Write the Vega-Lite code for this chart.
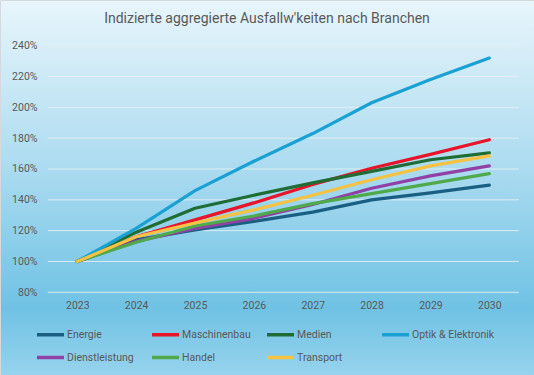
{
  "$schema": "https://vega.github.io/schema/vega-lite/v6.json",
  "width": 534,
  "height": 375,
  "autosize": {"type": "none"},
  "padding": 0,
  "background": "#ffffff",
  "config": {
    "font": "Roboto, sans-serif",
    "view": {
      "fill": {"gradient": "linear", "x1": 0, "y1": 0, "x2": 0, "y2": 1,
        "stops": [
          {"offset": 0, "color": "#e8f5fb"},
          {"offset": 0.45, "color": "#abdbf0"},
          {"offset": 0.82, "color": "#6fc2e4"},
          {"offset": 1, "color": "#97d3ed"}
        ]},
      "stroke": "#d5d9dc",
      "strokeWidth": 1
    },
    "axis": {"labelFontSize": 10.5, "labelColor": "#595959", "ticks": false, "domain": false, "grid": false, "title": null}
  },
  "title": {
    "text": "Indizierte aggregierte Ausfallw'keiten nach Branchen",
    "offset": -26,
    "fontSize": 14,
    "fontWeight": "normal",
    "color": "#595959",
    "anchor": "middle",
    "frame": "group"
  },
  "layer": [
    {
      "data": {"values": [{"v": 0.8}, {"v": 1.0}, {"v": 1.2}, {"v": 1.4}, {"v": 1.6}, {"v": 1.8}, {"v": 2.0}, {"v": 2.2}, {"v": 2.4}]},
      "mark": {"type": "rule", "color": "#e4eff4", "strokeWidth": 1, "opacity": 0.9},
      "encoding": {
        "y": {"field": "v", "type": "quantitative", "scale": {"domain": [0.2633, 2.6966], "nice": false, "zero": false},
          "axis": {"values": [0.8, 1.0, 1.2, 1.4, 1.6, 1.8, 2.0, 2.2, 2.4], "format": ".0%", "offset": -37, "labelPadding": 0}},
        "x": {"datum": 2022.5, "type": "quantitative", "scale": {"domain": [2021.687, 2030.759], "nice": false, "zero": false},
          "axis": {"values": [2023, 2024, 2025, 2026, 2027, 2028, 2029, 2030], "format": "d", "offset": -83, "labelPadding": 8}},
        "x2": {"datum": 2030.5}
      }
    },
    {
      "data": {"values": [
        {"Jahr": 2023, "Branche": "Energie", "Wert": 1.0},
        {"Jahr": 2024, "Branche": "Energie", "Wert": 1.14},
        {"Jahr": 2025, "Branche": "Energie", "Wert": 1.205},
        {"Jahr": 2026, "Branche": "Energie", "Wert": 1.26},
        {"Jahr": 2027, "Branche": "Energie", "Wert": 1.32},
        {"Jahr": 2028, "Branche": "Energie", "Wert": 1.40},
        {"Jahr": 2029, "Branche": "Energie", "Wert": 1.445},
        {"Jahr": 2030, "Branche": "Energie", "Wert": 1.495},
        {"Jahr": 2023, "Branche": "Maschinenbau", "Wert": 1.0},
        {"Jahr": 2024, "Branche": "Maschinenbau", "Wert": 1.16},
        {"Jahr": 2025, "Branche": "Maschinenbau", "Wert": 1.27},
        {"Jahr": 2026, "Branche": "Maschinenbau", "Wert": 1.38},
        {"Jahr": 2027, "Branche": "Maschinenbau", "Wert": 1.50},
        {"Jahr": 2028, "Branche": "Maschinenbau", "Wert": 1.605},
        {"Jahr": 2029, "Branche": "Maschinenbau", "Wert": 1.695},
        {"Jahr": 2030, "Branche": "Maschinenbau", "Wert": 1.79},
        {"Jahr": 2023, "Branche": "Medien", "Wert": 1.0},
        {"Jahr": 2024, "Branche": "Medien", "Wert": 1.19},
        {"Jahr": 2025, "Branche": "Medien", "Wert": 1.345},
        {"Jahr": 2026, "Branche": "Medien", "Wert": 1.43},
        {"Jahr": 2027, "Branche": "Medien", "Wert": 1.51},
        {"Jahr": 2028, "Branche": "Medien", "Wert": 1.585},
        {"Jahr": 2029, "Branche": "Medien", "Wert": 1.66},
        {"Jahr": 2030, "Branche": "Medien", "Wert": 1.705},
        {"Jahr": 2023, "Branche": "Optik & Elektronik", "Wert": 1.0},
        {"Jahr": 2024, "Branche": "Optik & Elektronik", "Wert": 1.215},
        {"Jahr": 2025, "Branche": "Optik & Elektronik", "Wert": 1.46},
        {"Jahr": 2026, "Branche": "Optik & Elektronik", "Wert": 1.65},
        {"Jahr": 2027, "Branche": "Optik & Elektronik", "Wert": 1.83},
        {"Jahr": 2028, "Branche": "Optik & Elektronik", "Wert": 2.03},
        {"Jahr": 2029, "Branche": "Optik & Elektronik", "Wert": 2.18},
        {"Jahr": 2030, "Branche": "Optik & Elektronik", "Wert": 2.32},
        {"Jahr": 2023, "Branche": "Dienstleistung", "Wert": 1.0},
        {"Jahr": 2024, "Branche": "Dienstleistung", "Wert": 1.13},
        {"Jahr": 2025, "Branche": "Dienstleistung", "Wert": 1.215},
        {"Jahr": 2026, "Branche": "Dienstleistung", "Wert": 1.28},
        {"Jahr": 2027, "Branche": "Dienstleistung", "Wert": 1.37},
        {"Jahr": 2028, "Branche": "Dienstleistung", "Wert": 1.475},
        {"Jahr": 2029, "Branche": "Dienstleistung", "Wert": 1.555},
        {"Jahr": 2030, "Branche": "Dienstleistung", "Wert": 1.62},
        {"Jahr": 2023, "Branche": "Handel", "Wert": 1.0},
        {"Jahr": 2024, "Branche": "Handel", "Wert": 1.125},
        {"Jahr": 2025, "Branche": "Handel", "Wert": 1.23},
        {"Jahr": 2026, "Branche": "Handel", "Wert": 1.295},
        {"Jahr": 2027, "Branche": "Handel", "Wert": 1.375},
        {"Jahr": 2028, "Branche": "Handel", "Wert": 1.44},
        {"Jahr": 2029, "Branche": "Handel", "Wert": 1.505},
        {"Jahr": 2030, "Branche": "Handel", "Wert": 1.57},
        {"Jahr": 2023, "Branche": "Transport", "Wert": 1.0},
        {"Jahr": 2024, "Branche": "Transport", "Wert": 1.16},
        {"Jahr": 2025, "Branche": "Transport", "Wert": 1.25},
        {"Jahr": 2026, "Branche": "Transport", "Wert": 1.335},
        {"Jahr": 2027, "Branche": "Transport", "Wert": 1.43},
        {"Jahr": 2028, "Branche": "Transport", "Wert": 1.53},
        {"Jahr": 2029, "Branche": "Transport", "Wert": 1.62},
        {"Jahr": 2030, "Branche": "Transport", "Wert": 1.685}
      ]},
      "mark": {"type": "line", "strokeWidth": 3.2, "strokeCap": "round", "strokeJoin": "round"},
      "encoding": {
        "x": {"field": "Jahr", "type": "quantitative"},
        "y": {"field": "Wert", "type": "quantitative"},
        "color": {"field": "Branche", "type": "nominal",
          "scale": {"domain": ["Energie", "Maschinenbau", "Medien", "Optik & Elektronik", "Dienstleistung", "Handel", "Transport"],
                    "range": ["#1a5f82", "#e8152a", "#1f6d35", "#1aa1d4", "#9140a6", "#50a94a", "#f5c242"]},
          "legend": {"orient": "none", "legendX": 35, "legendY": 319, "direction": "horizontal", "columns": 4, "gridAlign": "all", "symbolType": "stroke", "symbolSize": 729, "symbolStrokeWidth": 3.5, "labelOffset": 1, "labelFontSize": 10.5, "labelColor": "#595959", "columnPadding": -8, "rowPadding": 0, "title": null}
        }
      }
    }
  ]
}
